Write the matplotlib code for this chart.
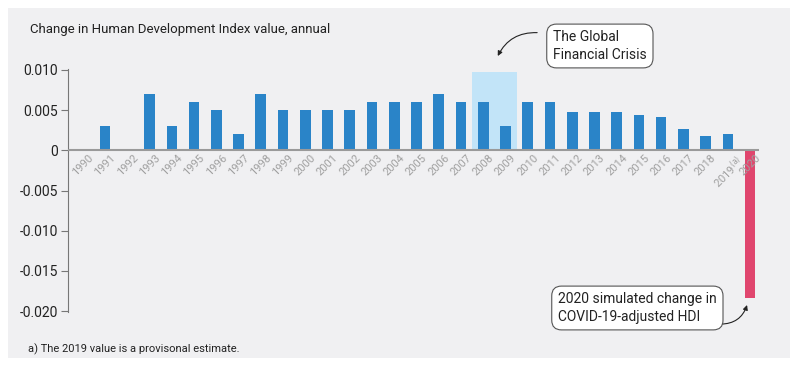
import numpy as np
import matplotlib.pyplot as plt
from matplotlib.patches import Rectangle

plt.rcParams['font.family'] = ['Roboto', 'DejaVu Sans']

years = list(range(1990, 2021))
change = [0.0, 0.003, 0.0, 0.007, 0.003, 0.006, 0.005, 0.002, 0.007, 0.005,
          0.005, 0.005, 0.005, 0.006, 0.006, 0.006, 0.007, 0.006, 0.006, 0.003,
          0.006, 0.006, 0.0048, 0.0048, 0.0048, 0.0044, 0.0041, 0.0026, 0.0018, 0.002,
          -0.0184]
year_labels = [str(y) for y in years]
year_labels[-2] = '2019$^{\\rm (a)}$'
crisis_years = [2008, 2009]
crisis_top = 0.00975

blue = '#2a84c8'
red = '#e0466e'

fig = plt.figure(figsize=(7.99, 3.67), dpi=100)
fig.patch.set_facecolor('white')
fig.patches.append(Rectangle((8 / 799, 9 / 367), 782 / 799, 350 / 367,
                             transform=fig.transFigure, facecolor='#f0f0f2',
                             edgecolor='none', zorder=-5))

ax = fig.add_axes([68 / 799, 1 - 312 / 367, (759 - 68) / 799, (312 - 69) / 367])
ax.set_facecolor('none')

ax.add_patch(Rectangle((crisis_years[0] - 0.5, 0), len(crisis_years), crisis_top,
                       facecolor='#c2e4f8', edgecolor='none', zorder=1))

colors = [blue] * (len(years) - 1) + [red]
ax.bar(years, change, width=0.48, color=colors, zorder=2)
ax.axhline(0, color='#9a9a9a', lw=1.5, zorder=3)

ax.set_xlim(1989.33, 2020.4)
ax.set_ylim(-0.0201, 0.0101)
ax.set_yticks([0.010, 0.005, 0, -0.005, -0.010, -0.015, -0.020])
ax.set_yticklabels(['0.010', '0.005', '0', '-0.005', '-0.010', '-0.015', '-0.020'],
                   fontsize=10, color='#222222')
ax.tick_params(axis='y', length=5, width=0.8, color='#777777', pad=2)
ax.set_xticks([])
for sp in ['top', 'right', 'bottom']:
    ax.spines[sp].set_visible(False)
ax.spines['left'].set_color('#777777')
ax.spines['left'].set_linewidth(0.8)

for x, lab in zip(years, year_labels):
    ax.text(x, -0.0003, lab, rotation=45, ha='center', va='top', fontsize=8,
            color='#a0a0a0', zorder=4)

fig.text(30 / 799, 1 - 30 / 367, 'Change in Human Development Index value, annual',
         fontsize=9.5, color='#222222', va='center', ha='left')
fig.text(28 / 799, 1 - 349 / 367, 'a) The 2019 value is a provisonal estimate.',
         fontsize=8, color='#222222', va='center', ha='left')

box = dict(boxstyle='round,pad=0.45,rounding_size=0.7', facecolor='white',
           edgecolor='#555555', lw=0.8)
fig.text(553 / 799, 1 - 46 / 367, 'The Global\nFinancial Crisis', fontsize=10,
         color='#222222', va='center', ha='left', bbox=box, linespacing=1.3)
fig.text(558 / 799, 1 - 308 / 367, '2020 simulated change in\nCOVID-19-adjusted HDI',
         fontsize=10, color='#222222', va='center', ha='left', bbox=box, linespacing=1.3)

ax.annotate('', xy=(2008.6, 0.0114), xytext=(2010.55, 0.0146),
            arrowprops=dict(arrowstyle='-|>', color='#222222', lw=0.8,
                            connectionstyle='arc3,rad=0.35', mutation_scale=7),
            annotation_clip=False)
ax.annotate('', xy=(2019.9, -0.0189), xytext=(2018.55, -0.0216),
            arrowprops=dict(arrowstyle='-|>', color='#222222', lw=0.8,
                            connectionstyle='arc3,rad=0.4', mutation_scale=7),
            annotation_clip=False)

fig.savefig('out.png', dpi=100, facecolor='white')
